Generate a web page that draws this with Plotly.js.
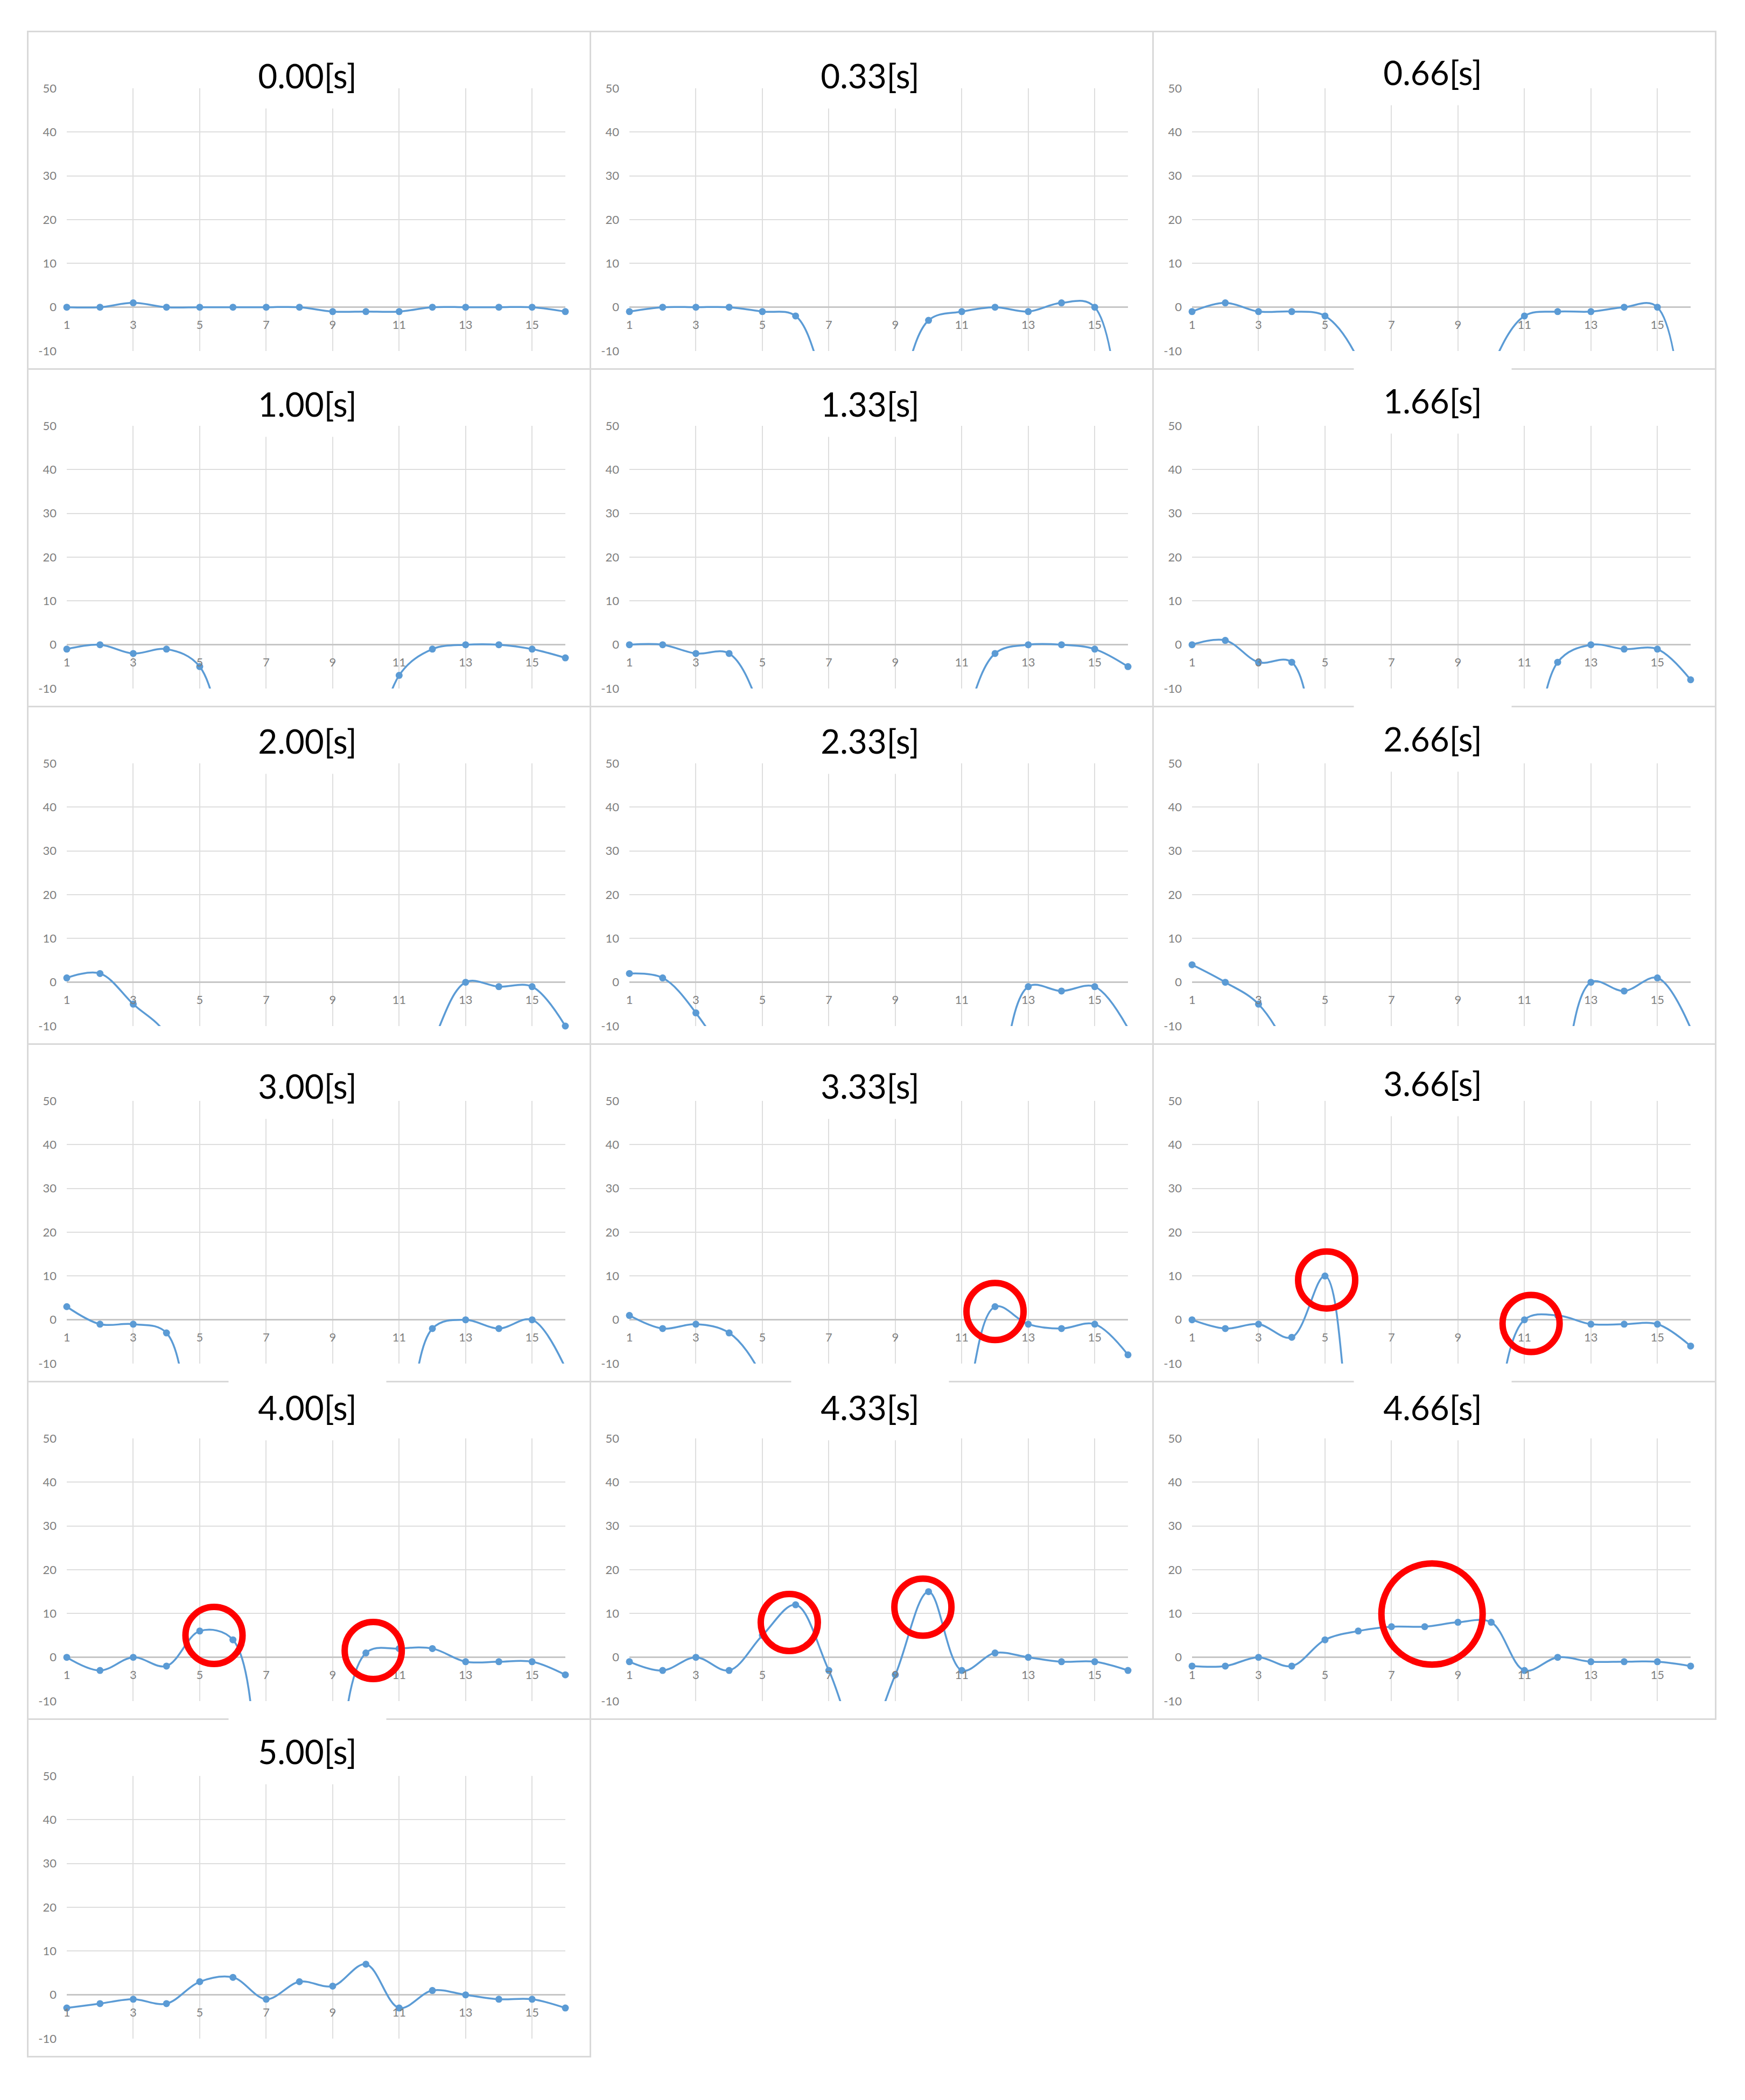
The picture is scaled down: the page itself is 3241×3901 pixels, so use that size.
<!DOCTYPE html>
<html>
<head>
<meta charset="utf-8">
<script src="https://cdn.plot.ly/plotly-3.0.1.min.js"></script>
<style>
  body { margin: 0; background: #ffffff; width: 3241px; height: 3901px; position: relative; overflow: hidden; }
  .frame { position: absolute; box-sizing: border-box; border: 3px solid #d9d9d9; z-index: 0; }
  .panel { position: absolute; z-index: 1; }
</style>
</head>
<body>
<script>
// sample index along the section (1..16)
var xs = [1, 2, 3, 4, 5, 6, 7, 8, 9, 10, 11, 12, 13, 14, 15, 16];

var titles = ["0.00[s]", "0.33[s]", "0.66[s]", "1.00[s]", "1.33[s]", "1.66[s]",
              "2.00[s]", "2.33[s]", "2.66[s]", "3.00[s]", "3.33[s]", "3.66[s]",
              "4.00[s]", "4.33[s]", "4.66[s]", "5.00[s]"];

// values; the big negatives are off-scale (below -10) and only estimated
var t000 = [0, 0, 1, 0, 0, 0, 0, 0, -1, -1, -1, 0, 0, 0, 0, -1];
var t033 = [-1, 0, 0, 0, -1, -2, -20, -35, -22, -3, -1, 0, -1, 1, 0, -200];
var t066 = [-1, 1, -1, -1, -2, -12, -40, -50, -40, -14, -2, -1, -1, 0, 0, -200];
var t100 = [-1, 0, -2, -1, -5, -35, -60, -70, -60, -35, -7, -1, 0, 0, -1, -3];
var t133 = [0, 0, -2, -2, -16, -45, -60, -70, -60, -45, -20, -2, 0, 0, -1, -5];
var t166 = [0, 1, -4, -4, -40, -60, -70, -70, -70, -60, -40, -4, 0, -1, -1, -8];
var t200 = [1, 2, -5, -12, -35, -50, -50, -50, -50, -50, -35, -14, 0, -1, -1, -10];
var t233 = [2, 1, -7, -20, -50, -50, -50, -50, -50, -50, -50, -28, -1, -2, -1, -10.5];
var t266 = [4, 0, -5, -18, -50, -50, -50, -50, -50, -50, -50, -28, 0, -2, 1, -10.5];
var t300 = [3, -1, -1, -3, -40, -60, -60, -60, -60, -60, -40, -2, 0, -2, 0, -11];
var t333 = [1, -2, -1, -3, -13, -35, -50, -50, -50, -50, -25, 3, -1, -2, -1, -8];
var t366 = [0, -2, -1, -4, 10, -40, -60, -60, -60, -28, 0, 1, -1, -1, -1, -6];
var t400 = [0, -3, 0, -2, 6, 4, -45, -80, -35, 1, 2, 2, -1, -1, -1, -4];
var t433 = [-1, -3, 0, -3, 5, 12, -3, -20, -4, 15, -3, 1, 0, -1, -1, -3];
var t466 = [-2, -2, 0, -2, 4, 6, 7, 7, 8, 8, -3, 0, -1, -1, -1, -2];
var t500 = [-3, -2, -1, -2, 3, 4, -1, 3, 2, 7, -3, 1, 0, -1, -1, -3];

var series = [t000, t033, t066, t100, t133, t166, t200, t233, t266,
              t300, t333, t366, t400, t433, t466, t500];

// red circles: panel index, centre in data units
var circlePanel = [10, 11, 11, 12, 12, 13, 13, 14];
var circleX = [12.0, 5.05, 11.2, 5.43, 10.22, 5.81, 9.83, 8.22];
var circleY = [1.9, 9.1, -0.85, 5.0, 1.56, 7.95, 11.45, 9.9];
var circleBig = [false, false, false, false, false, false, false, true];

var yTickVals = [-10, 0, 10, 20, 30, 40, 50];
var yTickText = ["-10", "0", "10", "20", "30", "40", "50"];
var xTickVals = [1, 3, 5, 7, 9, 11, 13, 15];
var xTickText = ["1", "3", "5", "7", "9", "11", "13", "15"];

var yMin = -10, yMax = 50;

// layout of the grid
var cols = 3;
var pitchX = 1045, pitchY = 627;
var left0 = 50, top0 = 57;
var mL = 74, mT = 107, plotW = 926, plotH = 488;
var titleCenter = [83, 83, 77, 66, 66, 60, 65, 65, 61, 79, 79, 74, 49, 49, 49, 61];

var blue = "#5b9bd5";
var font = "Lato, 'Open Sans', sans-serif";

for (var i = 0; i < series.length; i++) {
    var c = i % cols, r = Math.floor(i / cols);
    var L = left0 + c * pitchX, T = top0 + r * pitchY;

    var frame = document.createElement("div");
    frame.className = "frame";
    frame.style.left = L + "px";
    frame.style.top = T + "px";
    frame.style.width = (pitchX + 3) + "px";
    frame.style.height = (pitchY + 3) + "px";
    document.body.appendChild(frame);

    var div = document.createElement("div");
    div.className = "panel";
    div.id = "plotChart" + i;
    div.style.left = L + "px";
    div.style.top = T + "px";
    div.style.width = pitchX + "px";
    div.style.height = pitchY + "px";
    document.body.appendChild(div);

    var ys = series[i];
    var shown = ys.map(function (v) { return (v >= yMin - 1 && v <= yMax) ? v : null; });

    var shapes = [];
    for (var k = 0; k < circlePanel.length; k++) {
        if (circlePanel[k] !== i) continue;
        var rad = circleBig[k] ? 94 : 53;
        shapes.push({
            type: "circle", xref: "x", yref: "y",
            xsizemode: "pixel", ysizemode: "pixel",
            xanchor: circleX[k], yanchor: circleY[k],
            x0: -rad, x1: rad, y0: -rad, y1: rad,
            line: { color: "#ff0000", width: 12 }
        });
    }

    var data = [
        {
            x: xs, y: ys, mode: "lines", type: "scatter",
            line: { color: blue, width: 3.5, shape: "spline", smoothing: 1 },
            hoverinfo: "skip"
        },
        {
            x: xs, y: shown, mode: "markers", type: "scatter",
            marker: { color: blue, size: 13 },
            cliponaxis: false, hoverinfo: "skip"
        }
    ];

    var layout = {
        width: pitchX, height: pitchY,
        margin: { l: mL, r: pitchX - mL - plotW, t: mT, b: pitchY - mT - plotH },
        paper_bgcolor: "rgba(0,0,0,0)",
        plot_bgcolor: "rgba(0,0,0,0)",
        showlegend: false,
        font: { family: font, color: "#7f7f7f", size: 22 },
        xaxis: {
            range: [1, 16],
            tickvals: xTickVals, ticktext: xTickText,
            anchor: "free", position: (0 - yMin) / (yMax - yMin),
            showgrid: true, gridcolor: "#dedede", gridwidth: 2,
            zeroline: false, showline: false, ticks: "",
            ticklabelstandoff: 17,
            tickfont: { family: font, size: 22, color: "#7f7f7f" }
        },
        yaxis: {
            range: [yMin, yMax],
            tickvals: yTickVals, ticktext: yTickText,
            showgrid: true, gridcolor: "#dedede", gridwidth: 2,
            zeroline: true, zerolinecolor: "#c6c6c6", zerolinewidth: 3,
            showline: false, ticks: "",
            ticklabelstandoff: 18,
            tickfont: { family: font, size: 22, color: "#7f7f7f" }
        },
        shapes: shapes,
        annotations: [{
            text: titles[i], showarrow: false,
            xref: "paper", yref: "paper",
            x: (521 - mL) / plotW, y: 1 + (mT - titleCenter[i]) / plotH,
            xanchor: "center", yanchor: "middle",
            width: 290, height: 120, bgcolor: "#ffffff",
            font: { family: font, size: 62, color: "#000000" }
        }]
    };

    Plotly.newPlot(div.id, data, layout, { staticPlot: true, displayModeBar: false });
}
</script>
</body>
</html>
